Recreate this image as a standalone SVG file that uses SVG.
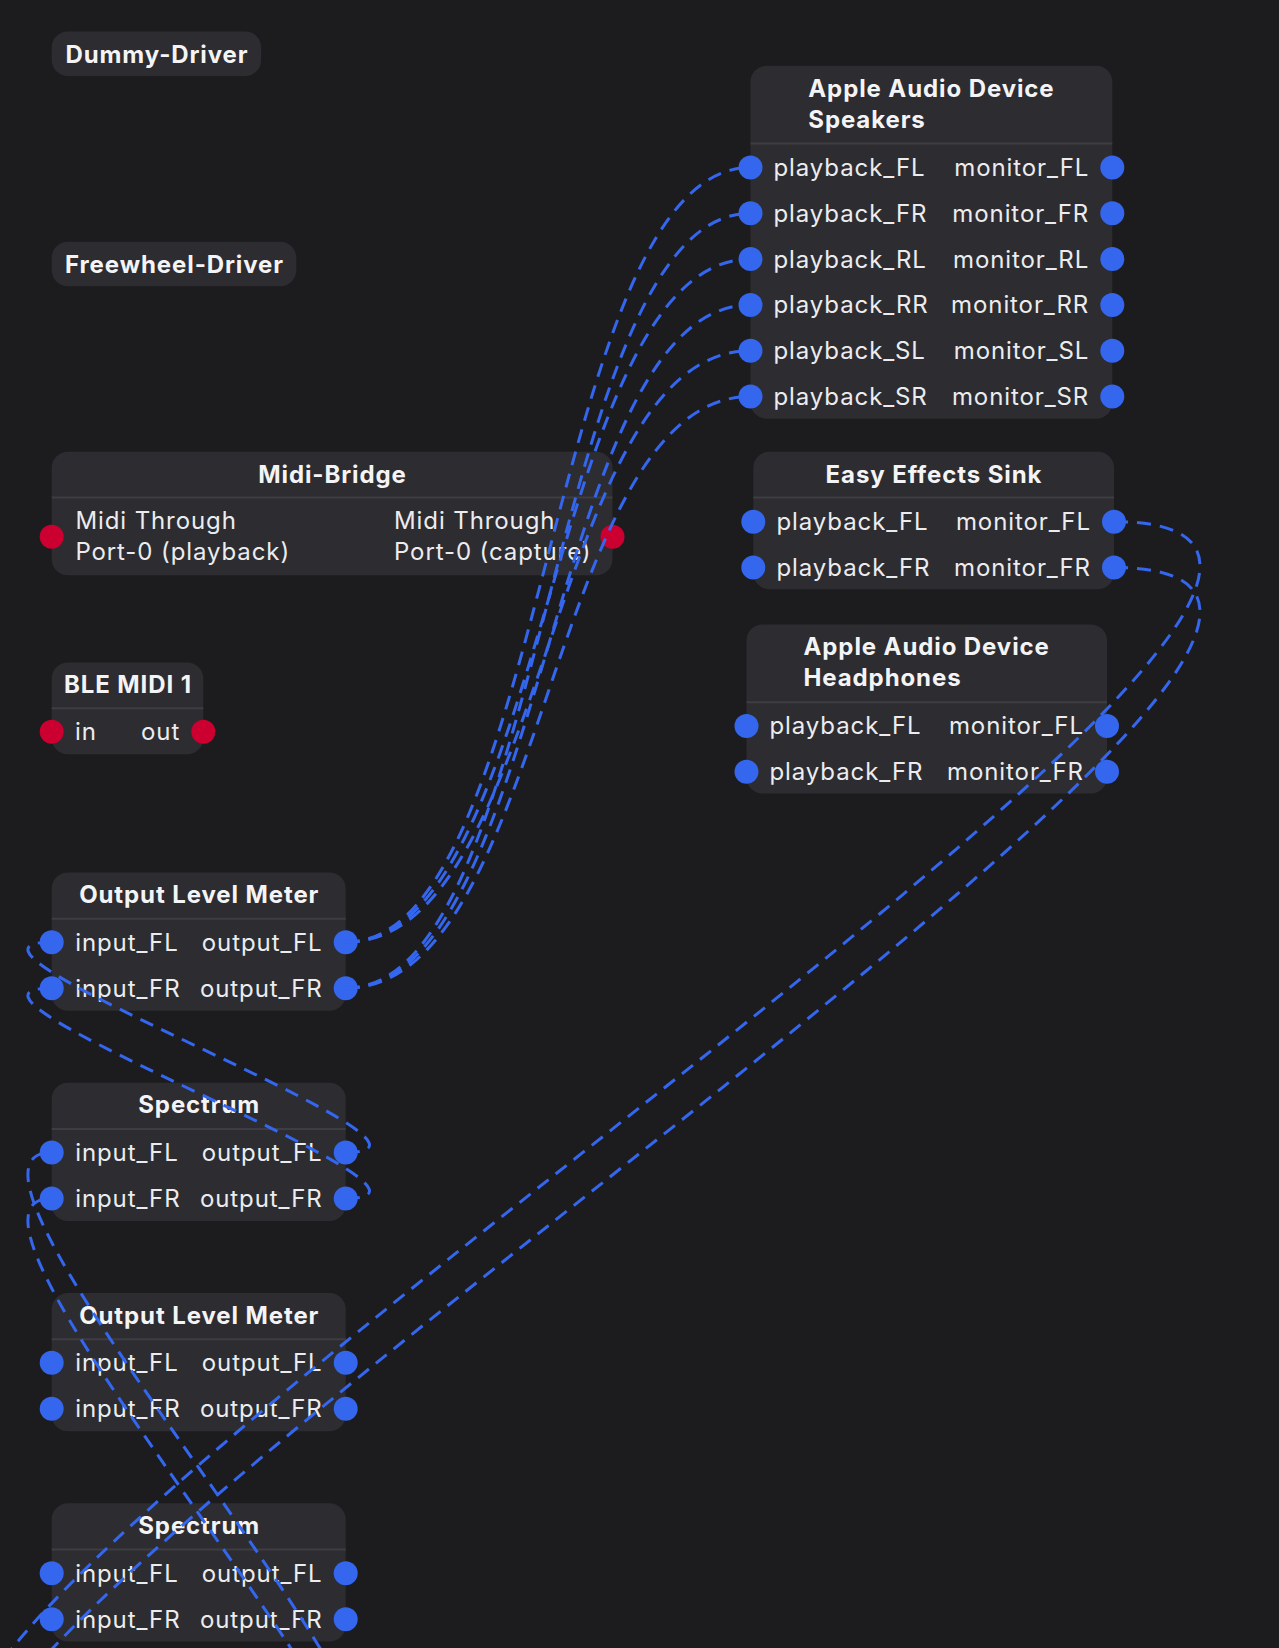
<svg xmlns="http://www.w3.org/2000/svg" width="1279" height="1648" viewBox="0 0 1279 1648">
<style>
.bg{fill:#1c1c1f}
.node{fill:#2c2c31}
.div{stroke:#3d3d43;stroke-width:2}
.title{font-family:Inter,"Noto Sans",sans-serif;font-size:24px;font-weight:700;fill:#f4f4f6;letter-spacing:0.9px}
.lbl{font-family:Inter,"Noto Sans",sans-serif;font-size:24px;font-weight:400;fill:#ececef;letter-spacing:0.9px}
.end{text-anchor:end}
.mid{text-anchor:middle}
.pa{fill:#3466ee}
.pm{fill:#cc0030}
.wire{fill:none;stroke:#3466ee;stroke-width:3;stroke-dasharray:14 9}
</style>
<rect class="bg" x="0" y="0" width="1279" height="1648"/>

<g id="dummy-driver">
<rect class="node" x="51.7" y="31.5" width="209.5" height="44.5" rx="16"/>
<text class="title mid" x="157" y="62.5">Dummy-Driver</text>
</g>

<g id="freewheel-driver">
<rect class="node" x="51.7" y="241.7" width="244.6" height="44.5" rx="16"/>
<text class="title mid" x="174.5" y="272.7">Freewheel-Driver</text>
</g>

<g id="midi-bridge">
<rect class="node" x="51.7" y="451.8" width="560.8" height="123.5" rx="16"/>
<line class="div" x1="51.7" y1="497.5" x2="612.5" y2="497.5"/>
<text class="title mid" x="332.5" y="482.5">Midi-Bridge</text>
<text class="lbl" x="75.4" y="529.3">Midi Through</text>
<text class="lbl" x="75.4" y="560">Port-0 (playback)</text>
<text class="lbl" x="394" y="529.3">Midi Through</text>
<text class="lbl" x="394" y="560">Port-0 (capture)</text>
<circle class="pm" cx="51.7" cy="536.7" r="12"/>
<circle class="pm" cx="612.5" cy="536.7" r="12"/>
</g>

<g id="ble-midi-1">
<rect class="node" x="51.7" y="662.5" width="151.6" height="91.8" rx="16"/>
<line class="div" x1="51.7" y1="708.3" x2="203.3" y2="708.3"/>
<text class="title mid" x="128" y="693.3">BLE MIDI 1</text>
<text class="lbl" x="75" y="740">in</text>
<text class="lbl end" x="180.2" y="740">out</text>
<circle class="pm" cx="51.7" cy="731.7" r="12"/>
<circle class="pm" cx="203.3" cy="731.7" r="12"/>
</g>

<g id="output-level-meter-1">
<rect class="node" x="51.7" y="872.5" width="294" height="138.2" rx="16"/>
<line class="div" x1="51.7" y1="918.8" x2="345.7" y2="918.8"/>
<text class="title mid" x="199.2" y="903.2">Output Level Meter</text>
<text class="lbl" x="75.2" y="950.6">input_FL</text>
<text class="lbl" x="75.2" y="996.6">input_FR</text>
<text class="lbl end" x="322.6" y="950.6">output_FL</text>
<text class="lbl end" x="322.6" y="996.6">output_FR</text>
<circle class="pa" cx="51.7" cy="942.2" r="12"/>
<circle class="pa" cx="51.7" cy="988.2" r="12"/>
<circle class="pa" cx="345.7" cy="942.2" r="12"/>
<circle class="pa" cx="345.7" cy="988.2" r="12"/>
</g>

<g id="spectrum-1">
<rect class="node" x="51.7" y="1082.7" width="294" height="138.2" rx="16"/>
<line class="div" x1="51.7" y1="1129" x2="345.7" y2="1129"/>
<text class="title mid" x="199.2" y="1113.4">Spectrum</text>
<text class="lbl" x="75.2" y="1160.8">input_FL</text>
<text class="lbl" x="75.2" y="1206.8">input_FR</text>
<text class="lbl end" x="322.6" y="1160.8">output_FL</text>
<text class="lbl end" x="322.6" y="1206.8">output_FR</text>
<circle class="pa" cx="51.7" cy="1152.4" r="12"/>
<circle class="pa" cx="51.7" cy="1198.4" r="12"/>
<circle class="pa" cx="345.7" cy="1152.4" r="12"/>
<circle class="pa" cx="345.7" cy="1198.4" r="12"/>
</g>

<g id="output-level-meter-2">
<rect class="node" x="51.7" y="1293" width="294" height="138.2" rx="16"/>
<line class="div" x1="51.7" y1="1339.3" x2="345.7" y2="1339.3"/>
<text class="title mid" x="199.2" y="1323.7">Output Level Meter</text>
<text class="lbl" x="75.2" y="1371.1">input_FL</text>
<text class="lbl" x="75.2" y="1417.1">input_FR</text>
<text class="lbl end" x="322.6" y="1371.1">output_FL</text>
<text class="lbl end" x="322.6" y="1417.1">output_FR</text>
<circle class="pa" cx="51.7" cy="1362.7" r="12"/>
<circle class="pa" cx="51.7" cy="1408.7" r="12"/>
<circle class="pa" cx="345.7" cy="1362.7" r="12"/>
<circle class="pa" cx="345.7" cy="1408.7" r="12"/>
</g>

<g id="spectrum-2">
<rect class="node" x="51.7" y="1503.3" width="294" height="138.2" rx="16"/>
<line class="div" x1="51.7" y1="1549.6" x2="345.7" y2="1549.6"/>
<text class="title mid" x="199.2" y="1534">Spectrum</text>
<text class="lbl" x="75.2" y="1581.6">input_FL</text>
<text class="lbl" x="75.2" y="1627.6">input_FR</text>
<text class="lbl end" x="322.6" y="1581.6">output_FL</text>
<text class="lbl end" x="322.6" y="1627.6">output_FR</text>
<circle class="pa" cx="51.7" cy="1573.2" r="12"/>
<circle class="pa" cx="51.7" cy="1619.2" r="12"/>
<circle class="pa" cx="345.7" cy="1573.2" r="12"/>
<circle class="pa" cx="345.7" cy="1619.2" r="12"/>
</g>

<g id="apple-audio-device-speakers">
<rect class="node" x="750.5" y="65.7" width="361.8" height="353" rx="16"/>
<line class="div" x1="750.5" y1="143.5" x2="1112.3" y2="143.5"/>
<text class="title" x="808.3" y="96.7">Apple Audio Device</text>
<text class="title" x="808.3" y="127.7">Speakers</text>
<text class="lbl" x="773.5" y="175.9">playback_FL</text>
<text class="lbl" x="773.5" y="221.7">playback_FR</text>
<text class="lbl" x="773.5" y="267.5">playback_RL</text>
<text class="lbl" x="773.5" y="313.3">playback_RR</text>
<text class="lbl" x="773.5" y="359.1">playback_SL</text>
<text class="lbl" x="773.5" y="404.9">playback_SR</text>
<text class="lbl end" x="1089.2" y="175.9">monitor_FL</text>
<text class="lbl end" x="1089.2" y="221.7">monitor_FR</text>
<text class="lbl end" x="1089.2" y="267.5">monitor_RL</text>
<text class="lbl end" x="1089.2" y="313.3">monitor_RR</text>
<text class="lbl end" x="1089.2" y="359.1">monitor_SL</text>
<text class="lbl end" x="1089.2" y="404.9">monitor_SR</text>
<circle class="pa" cx="750.5" cy="167.5" r="12"/>
<circle class="pa" cx="750.5" cy="213.3" r="12"/>
<circle class="pa" cx="750.5" cy="259.1" r="12"/>
<circle class="pa" cx="750.5" cy="304.9" r="12"/>
<circle class="pa" cx="750.5" cy="350.7" r="12"/>
<circle class="pa" cx="750.5" cy="396.5" r="12"/>
<circle class="pa" cx="1112.3" cy="167.5" r="12"/>
<circle class="pa" cx="1112.3" cy="213.3" r="12"/>
<circle class="pa" cx="1112.3" cy="259.1" r="12"/>
<circle class="pa" cx="1112.3" cy="304.9" r="12"/>
<circle class="pa" cx="1112.3" cy="350.7" r="12"/>
<circle class="pa" cx="1112.3" cy="396.5" r="12"/>
</g>

<g id="easy-effects-sink">
<rect class="node" x="753.3" y="451.8" width="360.7" height="137.5" rx="16"/>
<line class="div" x1="753.3" y1="497.5" x2="1114" y2="497.5"/>
<text class="title mid" x="934" y="482.5">Easy Effects Sink</text>
<text class="lbl" x="776.5" y="530.1">playback_FL</text>
<text class="lbl" x="776.5" y="575.9">playback_FR</text>
<text class="lbl end" x="1090.9" y="530.1">monitor_FL</text>
<text class="lbl end" x="1090.9" y="575.9">monitor_FR</text>
<circle class="pa" cx="753.3" cy="521.7" r="12"/>
<circle class="pa" cx="753.3" cy="567.5" r="12"/>
<circle class="pa" cx="1114" cy="521.7" r="12"/>
<circle class="pa" cx="1114" cy="567.5" r="12"/>
</g>

<g id="apple-audio-device-headphones">
<rect class="node" x="746.5" y="624.4" width="360.5" height="169" rx="16"/>
<line class="div" x1="746.5" y1="702.2" x2="1107" y2="702.2"/>
<text class="title" x="803.5" y="655.4">Apple Audio Device</text>
<text class="title" x="803.5" y="686.4">Headphones</text>
<text class="lbl" x="769.5" y="734.3">playback_FL</text>
<text class="lbl" x="769.5" y="780.1">playback_FR</text>
<text class="lbl end" x="1083.9" y="734.3">monitor_FL</text>
<text class="lbl end" x="1083.9" y="780.1">monitor_FR</text>
<circle class="pa" cx="746.5" cy="725.9" r="12"/>
<circle class="pa" cx="746.5" cy="771.7" r="12"/>
<circle class="pa" cx="1107" cy="725.9" r="12"/>
<circle class="pa" cx="1107" cy="771.7" r="12"/>
</g>

<g id="connectors">
<path class="wire" d="M345.7,942.2 C548.1,942.2 548.1,167.5 750.5,167.5"/>
<path class="wire" d="M345.7,988.2 C548.1,988.2 548.1,213.3 750.5,213.3"/>
<path class="wire" d="M345.7,942.2 C548.1,942.2 548.1,259.1 750.5,259.1"/>
<path class="wire" d="M345.7,988.2 C548.1,988.2 548.1,304.9 750.5,304.9"/>
<path class="wire" d="M345.7,942.2 C548.1,942.2 548.1,350.7 750.5,350.7"/>
<path class="wire" d="M345.7,988.2 C548.1,988.2 548.1,396.5 750.5,396.5"/>
<path class="wire" d="M345.7,1152.4 C492.7,1152.4 -95.3,942.2 51.7,942.2"/>
<path class="wire" d="M345.7,1198.4 C492.7,1198.4 -95.3,988.2 51.7,988.2"/>
<path class="wire" d="M345.7,1783.2 C492.7,1783.2 -95.3,1152.4 51.7,1152.4"/>
<path class="wire" d="M345.7,1829.2 C492.7,1829.2 -95.3,1198.4 51.7,1198.4"/>
<path class="wire" d="M1114,521.7 C1645.2,521.7 -479.5,1783.2 51.7,1783.2"/>
<path class="wire" d="M1114,567.5 C1645.2,567.5 -479.5,1829.2 51.7,1829.2"/>
</g>
</svg>
